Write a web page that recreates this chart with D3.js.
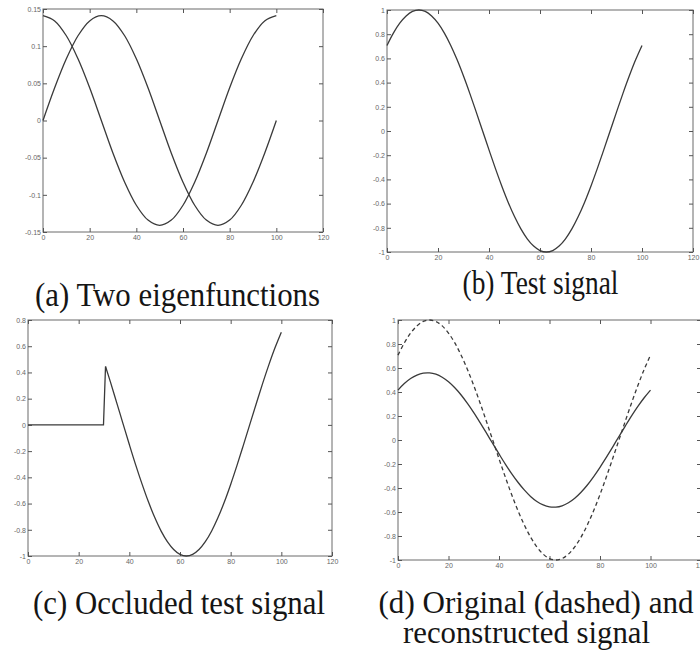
<!DOCTYPE html>
<html>
<head>
<meta charset="utf-8">
<script src="https://cdn.jsdelivr.net/npm/d3@7/dist/d3.min.js"></script>
<style>
  html, body { margin: 0; padding: 0; background: #fff; }
  svg { display: block; }
</style>
</head>
<body>
<svg id="chart" width="700" height="650"></svg>
<script>
// ---------------- data ----------------
const xTicks = [0, 20, 40, 60, 80, 100, 120];
const yTicksA = [-0.15, -0.1, -0.05, 0, 0.05, 0.1, 0.15];
const yTicksUnit = [-1, -0.8, -0.6, -0.4, -0.2, 0, 0.2, 0.4, 0.6, 0.8, 1];
const yTicksC = [-1, -0.8, -0.6, -0.4, -0.2, 0, 0.2, 0.4, 0.6, 0.8];

// (a) two eigenfunctions, sampled every 5
const xA = [0,5,10,15,20,25,30,35,40,45,50,55,60,65,70,75,80,85,90,95,100];
const eigen1 = [0,0.044,0.083,0.114,0.134,0.141,0.134,0.114,0.083,0.044,0,-0.044,-0.083,-0.114,-0.134,-0.141,-0.134,-0.114,-0.083,-0.044,0];
const eigen2 = [0.141,0.134,0.114,0.083,0.044,0,-0.044,-0.083,-0.114,-0.134,-0.141,-0.134,-0.114,-0.083,-0.044,0,0.044,0.083,0.114,0.134,0.141];

// (b),(d) test signal, sampled every 2.5
const xB = [0,2.5,5,7.5,10,12.5,15,17.5,20,22.5,25,27.5,30,32.5,35,37.5,40,42.5,45,47.5,50,52.5,55,57.5,60,62.5,65,67.5,70,72.5,75,77.5,80,82.5,85,87.5,90,92.5,95,97.5,100];
const testSignal = [0.707,0.809,0.891,0.951,0.988,1,0.988,0.951,0.891,0.809,0.707,0.588,0.454,0.309,0.156,0,-0.156,-0.309,-0.454,-0.588,-0.707,-0.809,-0.891,-0.951,-0.988,-1,-0.988,-0.951,-0.891,-0.809,-0.707,-0.588,-0.454,-0.309,-0.156,0,0.156,0.309,0.454,0.588,0.707];

// (c) occluded test signal
const xOcc = [0,29.8,30.6,32.5,35,37.5,40,42.5,45,47.5,50,52.5,55,57.5,60,62.5,65,67.5,70,72.5,75,77.5,80,82.5,85,87.5,90,92.5,95,97.5,100];
const occluded = [0,0,0.445,0.33,0.17,0.01,-0.15,-0.305,-0.45,-0.585,-0.705,-0.808,-0.89,-0.95,-0.988,-1,-0.988,-0.951,-0.891,-0.809,-0.707,-0.588,-0.454,-0.309,-0.156,0,0.156,0.309,0.454,0.588,0.707];

// (d) reconstructed signal
const reconstructed = [0.416,0.470,0.512,0.541,0.557,0.559,0.548,0.523,0.485,0.435,0.375,0.305,0.228,0.145,0.059,-0.029,-0.116,-0.201,-0.280,-0.352,-0.416,-0.470,-0.512,-0.541,-0.557,-0.559,-0.548,-0.523,-0.485,-0.435,-0.375,-0.305,-0.228,-0.145,-0.059,0.029,0.116,0.201,0.280,0.352,0.416];

const captions = {
  a: ["(a) Two eigenfunctions"],
  b: ["(b) Test signal"],
  c: ["(c) Occluded test signal"],
  d: ["(d) Original (dashed) and", "reconstructed signal"]
};

// ---------------- layout ----------------
const svg = d3.select("#chart");
const LINE = "#3a3a3a";
const SERIF = "'Liberation Serif', 'Times New Roman', serif";
const SANS = "'Liberation Sans', 'DejaVu Sans', Arial, sans-serif";

function panel(cfg) {
  const x = d3.scaleLinear().domain([0, 120]).range([cfg.left, cfg.right]);
  const y = d3.scaleLinear().domain(cfg.yDomain).range([cfg.bottom, cfg.top]);
  const g = svg.append("g");
  const fmt = d => String(d);

  g.append("rect")
    .attr("x", cfg.left).attr("y", cfg.top)
    .attr("width", cfg.right - cfg.left).attr("height", cfg.bottom - cfg.top)
    .attr("fill", "none").attr("stroke", "#6a6a6a").attr("stroke-width", 1);

  const styleAxis = sel => {
    sel.select(".domain").remove();
    sel.selectAll(".tick line").attr("stroke", "#555");
    sel.selectAll(".tick text").attr("font-family", SANS).attr("font-size", 7).attr("fill", "#666");
  };
  g.append("g").attr("transform", `translate(0,${cfg.bottom})`)
    .call(d3.axisBottom(x).tickValues(xTicks).tickFormat(fmt).tickSizeInner(-4).tickSizeOuter(0).tickPadding(3))
    .call(styleAxis);
  g.append("g").attr("transform", `translate(0,${cfg.top})`)
    .call(d3.axisTop(x).tickValues(xTicks).tickFormat("").tickSizeInner(-4).tickSizeOuter(0))
    .call(styleAxis);
  g.append("g").attr("transform", `translate(${cfg.left},0)`)
    .call(d3.axisLeft(y).tickValues(cfg.yTicks).tickFormat(fmt).tickSizeInner(-4).tickSizeOuter(0).tickPadding(2))
    .call(styleAxis);
  g.append("g").attr("transform", `translate(${cfg.right},0)`)
    .call(d3.axisRight(y).tickValues(cfg.yTicks).tickFormat("").tickSizeInner(-4).tickSizeOuter(0))
    .call(styleAxis);

  cfg.series.forEach(s => {
    const pts = s.x.map((v, i) => [v, s.y[i]]);
    const segs = s.split ? [pts.slice(0, s.split + 1), pts.slice(s.split)] : [pts];
    segs.forEach((seg, si) => {
      const curve = (s.split && si === 0) ? d3.curveLinear : d3.curveCatmullRom;
      g.append("path")
        .attr("d", d3.line().x(d => x(d[0])).y(d => y(d[1])).curve(curve)(seg))
        .attr("fill", "none").attr("stroke", LINE)
        .attr("stroke-width", 1.3)
        .attr("stroke-dasharray", s.dash || null);
    });
  });

  cfg.caption.forEach((t, i) => {
    svg.append("text")
      .attr("font-family", SERIF).attr("font-size", cfg.capSize).attr("fill", "#151515")
      .attr("x", cfg.capX[i]).attr("y", cfg.capY[i])
      .attr("text-anchor", "middle")
      .attr("textLength", cfg.capW[i]).attr("lengthAdjust", "spacingAndGlyphs")
      .text(t);
  });
}

panel({ left: 43, right: 323, top: 9, bottom: 232, yDomain: [-0.15, 0.15], yTicks: yTicksA,
  series: [{ x: xA, y: eigen1 }, { x: xA, y: eigen2 }],
  caption: captions.a, capX: [177.5], capY: [306], capW: [285], capSize: 34 });

panel({ left: 387, right: 693, top: 10, bottom: 252, yDomain: [-1, 1], yTicks: yTicksUnit,
  series: [{ x: xB, y: testSignal }],
  caption: captions.b, capX: [540.5], capY: [294], capW: [156], capSize: 34 });

panel({ left: 28, right: 332, top: 320, bottom: 556, yDomain: [-1, 0.8], yTicks: yTicksC,
  series: [{ x: xOcc, y: occluded, split: 2 }],
  caption: captions.c, capX: [179], capY: [614], capW: [292], capSize: 34 });

panel({ left: 398, right: 701, top: 320, bottom: 560, yDomain: [-1, 1], yTicks: yTicksUnit,
  series: [{ x: xB, y: testSignal, dash: "4,3" }, { x: xB, y: reconstructed }],
  caption: captions.d, capX: [536, 526.5], capY: [613, 643], capW: [315, 247], capSize: 32 });
</script>
</body>
</html>
